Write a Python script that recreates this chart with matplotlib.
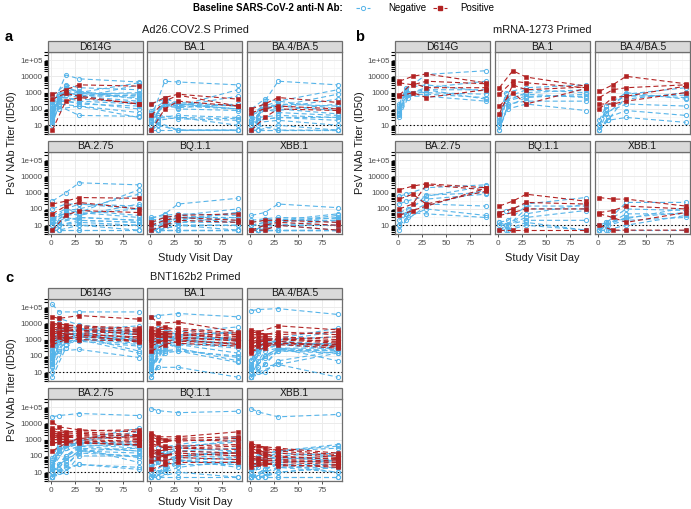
import matplotlib
matplotlib.use("Agg")
import matplotlib.pyplot as plt
from matplotlib.patches import Rectangle
from matplotlib.lines import Line2D
from matplotlib.ticker import FixedLocator, NullFormatter

plt.rcParams['font.family'] = ['Liberation Sans', 'DejaVu Sans']
plt.rcParams['lines.scale_dashes'] = False

# ---------------- data ----------------
VARIANTS = ["D614G", "BA.1", "BA.4/BA.5", "BA.2.75", "BQ.1.1", "XBB.1"]
GROUP_TITLES = ["Ad26.COV2.S Primed", "mRNA-1273 Primed", "BNT162b2 Primed"]
PANEL_LETTERS = ["a", "b", "c"]
X_TICKS = [0, 25, 50, 75]
Y_TICKS = [10, 100, 1000, 10000, 100000]
Y_TICK_LABELS = ["10", "100", "1000", "10000", "1e+05"]
LOD = 10
VISIT_DAY1 = 1
VISIT_DAY29 = 29
VISIT_DAY91 = 91

# second visit day per subject
A_NEG_DAY2 = [15, 15, 8, 15, 8, 15, 8, 15, 8, 15, 8, 15, 8, 15, 8, 15, 8, 15]
A_POS_DAY2 = [15, 15, 15]
B_NEG_DAY2 = [8, 8, 10, 8, 10, 8, 10, 8]
B_POS_DAY2 = [15, 15, 15, 15]
C_NEG_DAY2 = [8, 15, 8, 15, 8, 15, 8, 15, 8, 15, 8, 15, 8, 15, 8, 15, 8, 15, 8, 15]
C_POS_DAY2 = [8, 15, 8, 15, 8, 15, 8, 15, 8, 15, 8, 15]

# titers [day1, day2, day29, day91] per subject
A_NEG_D614G = [[150, 12000, 7000, 4500], [60, 2500, 1000, 800], [30, 800, 600, 300], [100, 1500, 900, 600],
               [20, 400, 200, 150], [200, 700, 500, 3000], [15, 150, 40, 35], [80, 2000, 1200, 400],
               [40, 600, 300, 200], [250, 1000, 700, 500], [10, 200, 150, 30], [120, 900, 800, 1000],
               [50, 300, 250, 100], [700, 3000, 2000, 1500], [25, 500, 400, 250], [90, 1200, 600, 700],
               [35, 100, 150, 60], [300, 2000, 1000, 4000]]
A_POS_D614G = [[400, 900, 600, 200], [800, 1500, 3000, 2500], [5, 300, 500, 200]]
A_NEG_BA1 = [[30, 5000, 4500, 3000], [10, 500, 200, 150], [5, 40, 30, 25], [20, 200, 200, 100],
             [5, 15, 5, 5], [40, 150, 150, 1500], [5, 10, 5, 5], [15, 300, 200, 100],
             [5, 30, 25, 20], [60, 200, 150, 100], [5, 5, 5, 5], [30, 150, 120, 200],
             [5, 20, 30, 10], [200, 400, 250, 150], [5, 30, 40, 30], [20, 200, 100, 80],
             [5, 10, 5, 5], [80, 300, 150, 600]]
A_POS_BA1 = [[40, 300, 700, 150], [200, 500, 800, 400], [5, 100, 300, 150]]
A_NEG_BA45 = [[20, 300, 5000, 3000], [10, 100, 200, 150], [5, 30, 40, 30], [15, 150, 300, 1500],
              [5, 10, 5, 5], [40, 100, 150, 800], [5, 5, 5, 5], [10, 200, 150, 80],
              [5, 20, 30, 20], [50, 150, 100, 50], [5, 5, 10, 5], [20, 100, 80, 200],
              [5, 15, 20, 10], [100, 400, 300, 100], [5, 20, 30, 30], [15, 100, 60, 40],
              [5, 5, 5, 5], [40, 200, 120, 400]]
A_POS_BA45 = [[100, 200, 500, 250], [60, 100, 150, 100], [5, 30, 100, 80]]
A_NEG_BA275 = [[300, 1000, 4000, 3000], [20, 100, 200, 150], [5, 15, 30, 20], [15, 80, 100, 800],
               [5, 5, 5, 5], [30, 50, 60, 1500], [5, 10, 10, 10], [10, 60, 80, 40],
               [5, 10, 20, 15], [40, 100, 60, 30], [5, 5, 5, 5], [15, 40, 50, 100],
               [5, 10, 15, 10], [100, 200, 200, 100], [5, 15, 30, 20], [10, 30, 20, 15],
               [5, 5, 10, 5], [20, 60, 40, 200]]
A_POS_BA275 = [[200, 300, 500, 450], [50, 150, 250, 100], [5, 40, 80, 60]]
A_NEG_BQ11 = [[25, 50, 200, 450], [5, 15, 30, 30], [5, 5, 5, 5], [10, 20, 40, 100],
              [5, 5, 5, 5], [10, 15, 20, 60], [5, 5, 5, 5], [5, 10, 30, 15],
              [5, 5, 10, 10], [20, 30, 40, 20], [5, 5, 5, 5], [10, 10, 15, 30],
              [5, 5, 10, 5], [30, 40, 50, 40], [5, 5, 10, 10], [5, 10, 15, 15],
              [5, 5, 5, 5], [15, 20, 25, 60]]
A_POS_BQ11 = [[15, 30, 40, 50], [10, 20, 30, 20], [5, 10, 20, 15]]
A_NEG_XBB1 = [[40, 60, 200, 120], [5, 10, 20, 20], [5, 5, 5, 5], [10, 15, 20, 50],
              [5, 5, 5, 5], [10, 10, 15, 30], [5, 5, 5, 5], [5, 10, 10, 10],
              [5, 5, 5, 5], [15, 20, 25, 15], [5, 5, 5, 5], [5, 10, 10, 20],
              [5, 5, 5, 5], [20, 25, 30, 25], [5, 5, 10, 5], [5, 5, 10, 10],
              [5, 5, 5, 5], [10, 15, 15, 40]]
A_POS_XBB1 = [[15, 20, 20, 15], [5, 10, 15, 10], [5, 5, 10, 5]]

B_NEG_D614G = [[150, 1500, 13000, 22000], [60, 800, 2000, 5000], [30, 500, 1500, 1500], [100, 1200, 1000, 800],
               [40, 700, 800, 500], [200, 2000, 3000, 1200], [50, 1000, 1500, 400], [80, 600, 600, 300]]
B_POS_D614G = [[5000, 10000, 14000, 4000], [4000, 3000, 5000, 3500], [600, 1000, 500, 1500], [700, 4000, 2000, 2000]]
B_NEG_BA1 = [[30, 1000, 2000, 3000], [10, 300, 1000, 1500], [5, 150, 500, 800], [20, 500, 1500, 1000],
             [10, 100, 200, 80], [15, 400, 800, 500], [5, 200, 300, 300], [10, 300, 600, 600]]
B_POS_BA1 = [[2000, 22000, 9000, 2500], [800, 5000, 4000, 2000], [150, 1000, 200, 1800], [50, 3000, 1500, 2200]]
B_NEG_BA45 = [[10, 100, 800, 2000], [5, 50, 400, 1000], [5, 20, 30, 15], [20, 150, 1000, 400],
              [5, 30, 80, 40], [10, 60, 200, 150], [5, 20, 600, 700], [10, 100, 700, 500]]
B_POS_BA45 = [[1200, 3000, 10000, 3500], [500, 1500, 2000, 3000], [200, 200, 300, 1000], [100, 500, 600, 2500]]
B_NEG_BA275 = [[600, 800, 2000, 3000], [200, 300, 600, 2500], [50, 60, 50, 30], [20, 50, 200, 150],
               [10, 30, 100, 40], [5, 20, 150, 1500], [60, 100, 400, 800], [10, 50, 700, 1000]]
B_POS_BA275 = [[1500, 2500, 3500, 2000], [400, 800, 200, 1200], [100, 200, 3000, 1500], [40, 80, 150, 1800]]
B_NEG_BQ11 = [[60, 80, 200, 500], [15, 10, 50, 200], [5, 5, 10, 5], [10, 10, 20, 20],
              [5, 10, 100, 100], [5, 5, 15, 5], [15, 20, 150, 150], [5, 10, 30, 80]]
B_POS_BQ11 = [[150, 300, 800, 300], [60, 100, 250, 200], [40, 60, 100, 100], [5, 5, 5, 5]]
B_NEG_XBB1 = [[5, 15, 250, 250], [5, 10, 30, 60], [5, 5, 5, 5], [10, 15, 100, 80],
              [5, 10, 20, 30], [5, 10, 50, 50], [5, 15, 25, 120], [5, 5, 10, 40]]
B_POS_XBB1 = [[500, 400, 400, 150], [60, 80, 150, 100], [50, 30, 15, 60], [10, 5, 5, 5]]

C_NEG_D614G = [[150000, 50000, 50000, 50000], [100, 2000, 4000, 3000], [30, 1000, 2000, 1500], [200, 3000, 1500, 800],
               [50, 200, 250, 80], [20, 800, 1000, 1000], [300, 10000, 5000, 2000], [5, 300, 1500, 200],
               [80, 5000, 3000, 4000], [40, 1500, 1200, 600], [150, 2000, 2500, 2000], [60, 3000, 1000, 150],
               [100, 1200, 2000, 1000], [400, 6000, 4000, 7000], [25, 700, 800, 400], [70, 2500, 1800, 900],
               [200, 4000, 3000, 2500], [10, 500, 1000, 500], [120, 20000, 8000, 3000], [45, 900, 1500, 1200]]
C_POS_D614G = [[25000, 20000, 30000, 18000], [10000, 8000, 7000, 5000], [5000, 6000, 5000, 3000],
               [3000, 4000, 3000, 2500], [2000, 3000, 4000, 2000], [1500, 2000, 2500, 1200],
               [1000, 1500, 1000, 800], [500, 1000, 1500, 900], [7000, 9000, 6000, 4000],
               [4000, 5000, 3500, 3500], [2500, 2500, 2000, 1500], [800, 1200, 2000, 700]]
C_NEG_BA1 = [[25000, 30000, 40000, 25000], [50, 1000, 2000, 3000], [10, 300, 1500, 1000], [100, 2000, 1000, 500],
             [5, 20, 20, 5], [20, 500, 800, 400], [200, 5000, 3000, 6000], [5, 200, 200, 100],
             [30, 1500, 1000, 1500], [15, 400, 500, 150], [60, 1000, 1500, 800], [20, 800, 300, 50],
             [40, 600, 1000, 600], [150, 3000, 2000, 2500], [10, 200, 250, 80], [25, 700, 600, 300],
             [80, 1500, 1200, 1000], [5, 150, 200, 40], [50, 5000, 2000, 1000], [15, 300, 500, 400]]
C_POS_BA1 = [[25000, 10000, 12000, 3000], [5000, 6000, 4000, 2000], [3000, 3000, 3000, 1500],
             [2000, 2500, 2000, 1200], [1500, 2000, 2500, 1000], [1000, 1500, 1500, 800],
             [700, 800, 1000, 500], [200, 500, 800, 600], [3500, 4000, 5000, 2500],
             [2500, 2000, 1800, 2000], [1200, 1800, 1200, 900], [400, 1000, 600, 400]]
C_NEG_BA45 = [[60000, 70000, 80000, 35000], [20, 500, 1000, 1500], [5, 50, 300, 300], [30, 500, 800, 400],
              [5, 10, 30, 5], [10, 100, 300, 200], [50, 1000, 1200, 5000], [5, 30, 250, 150],
              [15, 200, 500, 600], [10, 80, 200, 150], [25, 300, 600, 300], [10, 200, 300, 50],
              [15, 150, 500, 250], [60, 800, 1000, 3000], [5, 20, 30, 150], [10, 100, 250, 200],
              [20, 400, 700, 400], [5, 10, 50, 200], [20, 600, 800, 500], [5, 30, 200, 250]]
C_POS_BA45 = [[4000, 3000, 7000, 4000], [2000, 2000, 3000, 2000], [1000, 1500, 1500, 1000],
              [800, 1000, 1200, 700], [500, 800, 1000, 600], [300, 600, 600, 400],
              [150, 400, 500, 300], [200, 300, 800, 350], [3000, 2500, 2000, 3000],
              [1500, 1200, 1000, 1500], [700, 700, 1100, 800], [400, 500, 600, 500]]
C_NEG_BA275 = [[25000, 30000, 40000, 30000], [20, 300, 800, 2000], [5, 30, 200, 150], [40, 500, 700, 400],
               [5, 10, 30, 20], [10, 100, 400, 500], [60, 800, 1000, 5000], [5, 30, 150, 100],
               [15, 200, 600, 800], [10, 50, 200, 80], [20, 300, 500, 300], [10, 100, 300, 40],
               [15, 150, 400, 200], [80, 700, 900, 3000], [5, 15, 30, 15], [10, 80, 300, 200],
               [20, 300, 700, 600], [5, 10, 100, 100], [30, 400, 600, 500], [5, 20, 200, 300]]
C_POS_BA275 = [[12000, 6000, 4000, 3000], [5000, 3000, 3000, 2000], [3000, 2000, 2500, 1500],
               [2000, 1500, 1800, 1200], [1500, 1200, 1500, 1000], [1000, 1000, 800, 700],
               [600, 700, 600, 500], [200, 600, 1200, 1500], [4000, 2500, 3500, 4000],
               [2500, 1800, 1000, 800], [1800, 1500, 2000, 1800], [600, 800, 700, 450]]
C_NEG_BQ11 = [[80000, 60000, 45000, 55000], [20, 100, 300, 1000], [5, 10, 30, 30], [30, 200, 300, 200],
              [5, 5, 5, 5], [10, 30, 100, 150], [50, 300, 500, 1500], [5, 10, 50, 40],
              [15, 50, 100, 200], [5, 20, 50, 30], [20, 100, 150, 100], [10, 30, 60, 20],
              [10, 40, 100, 80], [60, 300, 400, 700], [5, 5, 10, 5], [10, 30, 80, 60],
              [15, 100, 200, 300], [5, 10, 20, 50], [20, 150, 200, 150], [5, 15, 50, 80]]
C_POS_BQ11 = [[2500, 1500, 1500, 3000], [2000, 1000, 1200, 1500], [1000, 600, 1000, 800],
              [600, 300, 400, 500], [250, 200, 300, 250], [150, 100, 200, 150],
              [100, 80, 150, 100], [50, 50, 80, 60], [1500, 1000, 800, 1200],
              [400, 400, 300, 400], [200, 150, 100, 150], [15, 30, 40, 40]]
C_NEG_XBB1 = [[80000, 50000, 25000, 35000], [10, 50, 200, 400], [5, 5, 10, 20], [20, 80, 150, 100],
              [5, 5, 5, 5], [5, 15, 40, 50], [30, 100, 200, 500], [5, 5, 20, 20],
              [10, 30, 60, 100], [5, 10, 20, 10], [15, 50, 80, 50], [5, 15, 30, 10],
              [5, 20, 50, 40], [40, 150, 200, 300], [5, 5, 5, 5], [5, 15, 30, 30],
              [10, 40, 100, 150], [5, 5, 10, 20], [10, 60, 80, 60], [5, 10, 20, 30]]
C_POS_XBB1 = [[600, 400, 300, 150], [400, 300, 200, 100], [300, 200, 150, 80],
              [200, 100, 100, 60], [100, 80, 60, 50], [60, 50, 50, 40],
              [40, 30, 40, 30], [20, 30, 30, 20], [500, 200, 250, 120],
              [150, 150, 80, 70], [80, 60, 50, 40], [30, 40, 25, 25]]

GROUP_DATA = [
    (A_NEG_DAY2, A_POS_DAY2,
     [A_NEG_D614G, A_NEG_BA1, A_NEG_BA45, A_NEG_BA275, A_NEG_BQ11, A_NEG_XBB1],
     [A_POS_D614G, A_POS_BA1, A_POS_BA45, A_POS_BA275, A_POS_BQ11, A_POS_XBB1]),
    (B_NEG_DAY2, B_POS_DAY2,
     [B_NEG_D614G, B_NEG_BA1, B_NEG_BA45, B_NEG_BA275, B_NEG_BQ11, B_NEG_XBB1],
     [B_POS_D614G, B_POS_BA1, B_POS_BA45, B_POS_BA275, B_POS_BQ11, B_POS_XBB1]),
    (C_NEG_DAY2, C_POS_DAY2,
     [C_NEG_D614G, C_NEG_BA1, C_NEG_BA45, C_NEG_BA275, C_NEG_BQ11, C_NEG_XBB1],
     [C_POS_D614G, C_POS_BA1, C_POS_BA45, C_POS_BA275, C_POS_BQ11, C_POS_XBB1]),
]

# ---------------- styling ----------------
W, H = 691, 509
NEG_COLOR = '#56B4E9'
POS_COLOR = '#B22222'
BORDER = '#6E6E6E'
STRIP_FILL = '#D9D9D9'
GRID_MAJ = '#EBEBEB'
GRID_MIN = '#F4F4F4'
TICK_TXT = '#4D4D4D'
DASH = (0, (3.6, 2.2))

fig = plt.figure(figsize=(W / 100, H / 100), dpi=100)


def fig_rect(x0, y0, x1, y1):
    return [x0 / W, 1 - y1 / H, (x1 - x0) / W, (y1 - y0) / H]


def draw_panel(x0, x1, strip_top, top, bot, title, neg_days2, pos_days2, neg_vals, pos_vals,
               left, bottom_row):
    # strip
    fig.add_artist(Rectangle((x0 / W, 1 - top / H), (x1 - x0) / W, (top - strip_top) / H,
                             transform=fig.transFigure, facecolor=STRIP_FILL,
                             edgecolor=BORDER, lw=0.9))
    fig.text((x0 + x1) / 2 / W, 1 - (strip_top + top) / 2 / H, title, ha='center', va='center',
             fontsize=7.4, color='#1A1A1A')
    ax = fig.add_axes(fig_rect(x0, top, x1, bot))
    ax.set_yscale('log')
    ax.set_xlim(-3.5, 95.5)
    ax.set_ylim(2.9, 3.1e5)
    # grids
    for gx in [12.5, 37.5, 62.5, 87.5]:
        ax.axvline(gx, color=GRID_MIN, lw=0.45, zorder=0)
    for gy in [10 ** 0.5, 10 ** 1.5, 10 ** 2.5, 10 ** 3.5, 10 ** 4.5]:
        ax.axhline(gy, color=GRID_MIN, lw=0.45, zorder=0)
    for gx in X_TICKS:
        ax.axvline(gx, color=GRID_MAJ, lw=0.7, zorder=0)
    for gy in Y_TICKS:
        ax.axhline(gy, color=GRID_MAJ, lw=0.7, zorder=0)
    ax.axhline(LOD, color='black', lw=0.8, ls=(0, (1, 1.6)), zorder=1)

    for d2, vals in zip(neg_days2, neg_vals):
        ax.plot([VISIT_DAY1, d2, VISIT_DAY29, VISIT_DAY91], vals, color=NEG_COLOR, lw=0.8, ls=DASH,
                marker='o', ms=3.0, mfc='none', mec=NEG_COLOR, mew=0.7, zorder=2)
    for d2, vals in zip(pos_days2, pos_vals):
        ax.plot([VISIT_DAY1, d2, VISIT_DAY29, VISIT_DAY91], vals, color=POS_COLOR, lw=0.8, ls=DASH,
                marker='s', ms=2.8, mfc=POS_COLOR, mec=POS_COLOR, mew=0.4, zorder=3)

    for s in ax.spines.values():
        s.set_color(BORDER)
        s.set_linewidth(0.9)
    ax.xaxis.set_major_locator(FixedLocator(X_TICKS))
    ax.yaxis.set_major_locator(FixedLocator(Y_TICKS))
    minors = [m * 10 ** k for k in range(0, 6) for m in range(2, 10)]
    ax.yaxis.set_minor_locator(FixedLocator([v for v in minors if 2.9 < v < 3.1e5]))
    ax.yaxis.set_minor_formatter(NullFormatter())
    ax.xaxis.set_minor_locator(FixedLocator([]))
    if left:
        ax.set_yticklabels(Y_TICK_LABELS)
        ax.tick_params(axis='y', which='major', length=2.5, width=0.6, color='#333333',
                       labelsize=5.8, labelcolor=TICK_TXT, pad=1.5)
        ax.tick_params(axis='y', which='minor', length=2.6, width=0.8, color='black')
    else:
        ax.tick_params(axis='y', which='both', left=False, labelleft=False)
    if bottom_row:
        ax.set_xticklabels([str(t) for t in X_TICKS])
        ax.tick_params(axis='x', length=2.5, width=0.6, color='#333333',
                       labelsize=5.9, labelcolor=TICK_TXT, pad=1.5)
    else:
        ax.tick_params(axis='x', bottom=False, labelbottom=False)
    return ax


COLS_AC = [(48, 143), (147, 242), (247, 342)]
COLS_B = [(395, 490), (495, 590), (595, 690)]
ROWS_AB = [(41, 52, 134), (141, 152, 234)]
ROWS_C = [(288, 299, 381), (388, 399, 481)]

LAYOUTS = [
    (COLS_AC, ROWS_AB, 195, 30, 5, 37, 12, 143, 258),
    (COLS_B, ROWS_AB, 542, 30, 355, 37, 360, 143, 258),
    (COLS_AC, ROWS_C, 195, 277, 5, 278, 12, 390, 502),
]

for gi, (cols, rows, tx, ty, lx, ly, ylx, yly, xly) in enumerate(LAYOUTS):
    neg_d2, pos_d2, neg_sets, pos_sets = GROUP_DATA[gi]
    for vi, vname in enumerate(VARIANTS):
        r, c = divmod(vi, 3)
        x0, x1 = cols[c]
        st, tp, bt = rows[r]
        draw_panel(x0, x1, st, tp, bt, vname, neg_d2, pos_d2, neg_sets[vi], pos_sets[vi],
                   left=(c == 0), bottom_row=(r == 1))
    fig.text(tx / W, 1 - ty / H, GROUP_TITLES[gi], ha='center', va='center', fontsize=7.9,
             color='#1A1A1A')
    fig.text(lx / W, 1 - ly / H, PANEL_LETTERS[gi], ha='left', va='center', fontsize=10.5,
             fontweight='bold')
    fig.text(ylx / W, 1 - yly / H, "PsV NAb Titer (ID50)", ha='center', va='center',
             rotation=90, fontsize=7.9, color='#1A1A1A')
    fig.text((cols[0][0] + cols[2][1]) / 2 / W, 1 - xly / H, "Study Visit Day", ha='center',
             va='center', fontsize=7.9, color='#1A1A1A')

# legend
LEG_Y = 8
fig.text(343 / W, 1 - LEG_Y / H, "Baseline SARS-CoV-2 anti-N Ab:", ha='right', va='center',
         fontsize=7, fontweight='bold')
fig.add_artist(Line2D([356 / W, 370 / W], [1 - LEG_Y / H] * 2, transform=fig.transFigure,
                      color=NEG_COLOR, lw=0.8, ls=(0, (2.5, 1.5))))
fig.add_artist(Line2D([363 / W], [1 - LEG_Y / H], transform=fig.transFigure, color=NEG_COLOR,
                      marker='o', ms=3.0, mfc='white', mec=NEG_COLOR, mew=0.7, ls='none'))
fig.text(388 / W, 1 - LEG_Y / H, "Negative", ha='left', va='center', fontsize=7)
fig.add_artist(Line2D([433 / W, 447 / W], [1 - LEG_Y / H] * 2, transform=fig.transFigure,
                      color=POS_COLOR, lw=0.8, ls=(0, (2.5, 1.5))))
fig.add_artist(Line2D([440 / W], [1 - LEG_Y / H], transform=fig.transFigure, color=POS_COLOR,
                      marker='s', ms=2.8, mfc=POS_COLOR, mec=POS_COLOR, ls='none'))
fig.text(460 / W, 1 - LEG_Y / H, "Positive", ha='left', va='center', fontsize=7)

fig.savefig("out.png", dpi=100)
